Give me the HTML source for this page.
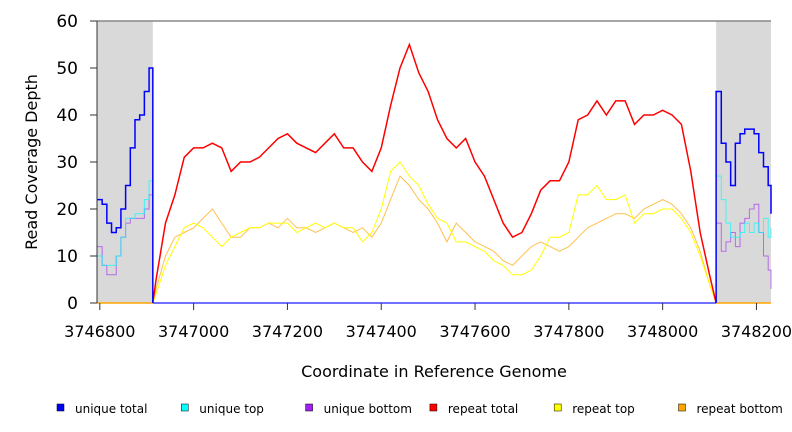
<!DOCTYPE html>
<html><head><meta charset="utf-8"><style>
html,body{margin:0;padding:0;background:#fff;}
svg{display:block;font-family:"DejaVu Sans","Liberation Sans",sans-serif;}
</style></head><body>
<svg id="chart" width="792" height="432" viewBox="0 0 792 432">
<g id="bg"></g><g id="series"></g><g id="axes"></g><g id="legend"></g>
</svg>
<script>
const midCoords = [3746920,3746940,3746960,3746980,3747000,3747020,3747040,3747060,3747080,3747100,3747120,3747140,3747160,3747180,3747200,3747220,3747240,3747260,3747280,3747300,3747320,3747340,3747360,3747380,3747400,3747420,3747440,3747460,3747480,3747500,3747520,3747540,3747560,3747580,3747600,3747620,3747640,3747660,3747680,3747700,3747720,3747740,3747760,3747780,3747800,3747820,3747840,3747860,3747880,3747900,3747920,3747940,3747960,3747980,3748000,3748020,3748040,3748060,3748080,3748100];
const repeatTotal = [5,17,23,31,33,33,34,33,28,30,30,31,33,35,36,34,33,32,34,36,33,33,30,28,33,42,50,55,49,45,39,35,33,35,30,27,22,17,14,15,19,24,26,26,30,39,40,43,40,43,43,38,40,40,41,40,38,28,15,6];
const repeatTop = [2,8,12,16,17,16,14,12,14,15,16,16,17,17,17,15,16,17,16,17,16,16,13,15,20,28,30,27,25,21,18,17,13,13,12,11,9,8,6,6,7,10,14,14,15,23,23,25,22,22,23,17,19,19,20,20,18,15,10,4];
const repeatBottom = [3,10,14,15,16,18,20,17,14,14,16,16,17,16,18,16,16,15,16,17,16,15,16,14,17,22,27,25,22,20,17,13,17,15,13,12,11,9,8,10,12,13,12,11,12,14,16,17,18,19,19,18,20,21,22,21,19,16,11,4];
const leftCoords = [3746795,3746805,3746815,3746825,3746835,3746845,3746855,3746865,3746875,3746885,3746895,3746905,3746913];
const leftUniqueTotal = [22,21,17,15,16,20,25,33,39,40,45,50,46];
const leftUniqueTop = [10,8,8,8,10,14,18,18,19,19,22,26,20];
const leftUniqueBottom = [12,8,6,6,10,14,17,18,18,18,20,23,20];
const rightCoords = [3748114,3748125,3748135,3748145,3748155,3748165,3748175,3748185,3748195,3748205,3748215,3748225,3748231];
const rightUniqueTotal = [45,34,30,25,34,36,37,37,36,32,29,25,19];
const rightUniqueTop = [27,22,17,14,14,15,17,15,17,15,18,14,16];
const rightUniqueBottom = [17,11,13,15,12,17,18,20,21,15,10,7,3];
const xTicks = [3746800,3747000,3747200,3747400,3747600,3747800,3748000,3748200];
const yTicks = [0,10,20,30,40,50,60];
const legendLabels = ["unique total","unique top","unique bottom","repeat total","repeat top","repeat bottom"];
const legendColors = ["#0000ff","#00ffff","#a020f0","#ff0000","#ffff00","#ffa500"];

const NS="http://www.w3.org/2000/svg";
const X0=3746794, X1=3748231, PL=97, PR=771, PT=21, PB=303, YMAX=60;
const gapL=3746913, gapR=3748114;
const xs=c=>PL+(c-X0)*(PR-PL)/(X1-X0);
const ys=v=>PB-v*(PB-PT)/YMAX;
function mk(tag,attrs,parent){const e=document.createElementNS(NS,tag);for(const k in attrs)e.setAttribute(k,attrs[k]);parent.appendChild(e);return e;}
function stepPath(cs,vs){let d="M"+xs(cs[0])+","+ys(vs[0]);for(let i=1;i<cs.length;i++){d+="H"+xs(cs[i])+"V"+ys(vs[i]);}return d;}
function linePath(cs,vs){return cs.map((c,i)=>(i?"L":"M")+xs(c)+","+ys(vs[i])).join("");}
const bg=document.getElementById('bg'),S=document.getElementById('series'),A=document.getElementById('axes'),L=document.getElementById('legend');

let r=mk('rect',{x:xs(X0),y:PT,width:xs(gapL)-xs(X0),height:PB-PT,fill:'#d9d9d9'},bg);

r=mk('rect',{x:xs(gapR),y:PT,width:xs(X1)-xs(gapR),height:PB-PT,fill:'#d9d9d9'},bg);


let p=mk('path',{d:"M"+xs(gapL)+","+ys(0)+"H"+xs(gapR),stroke:'#4444ff',fill:'none','stroke-width':1.5},S);

p=mk('path',{d:"M"+xs(X0)+","+ys(0)+"H"+xs(gapL)+"M"+xs(gapR)+","+ys(0)+"H"+xs(X1),stroke:'#ffa500',fill:'none','stroke-width':1.5},S);


function mid(vs){return linePath([gapL].concat(midCoords,[gapR]),[0].concat(vs,[0]));}
p=mk('path',{d:mid(repeatBottom),stroke:'#ffa500',fill:'none','stroke-width':1,opacity:0.7},S);

p=mk('path',{d:mid(repeatTop),stroke:'#ffff00',fill:'none','stroke-width':1},S);

p=mk('path',{d:mid(repeatTotal),stroke:'#ff0000',fill:'none','stroke-width':1.5},S);


p=mk('path',{d:stepPath(leftCoords,leftUniqueBottom),stroke:'#a020f0',fill:'none','stroke-width':1,opacity:0.6},S);

p=mk('path',{d:stepPath(leftCoords,leftUniqueTop),stroke:'#00ffff',fill:'none','stroke-width':1,opacity:0.7},S);

p=mk('path',{d:stepPath(leftCoords,leftUniqueTotal)+"V"+ys(0),stroke:'#0000ff',fill:'none','stroke-width':1.5},S);

p=mk('path',{d:stepPath(rightCoords,rightUniqueBottom),stroke:'#a020f0',fill:'none','stroke-width':1,opacity:0.6},S);

p=mk('path',{d:stepPath(rightCoords,rightUniqueTop),stroke:'#00ffff',fill:'none','stroke-width':1,opacity:0.7},S);

p=mk('path',{d:"M"+xs(gapR)+","+ys(0)+"V"+ys(rightUniqueTotal[0])+stepPath(rightCoords,rightUniqueTotal).replace(/^M[^H]*/,""),stroke:'#0000ff',fill:'none','stroke-width':1.5},S);


p=mk('line',{x1:PL,y1:PT,x2:PR,y2:PT,stroke:'#888',"stroke-width":1.5},A);

p=mk('line',{x1:PL,y1:PT,x2:PL,y2:PB,stroke:'#333',"stroke-width":1},A);

yTicks.forEach(v=>{
 let t=mk('line',{x1:PL-7,x2:PL,y1:ys(v),y2:ys(v),stroke:'#333'},A);
 
 let tx=mk('text',{x:78,y:ys(v)+6,'text-anchor':'end','font-size':17,fill:'#000'},A);tx.textContent=v;
 
});
xTicks.forEach(v=>{
 let t=mk('line',{x1:xs(v),x2:xs(v),y1:PB,y2:PB+7,stroke:'#333'},A);
 
 let tx=mk('text',{x:xs(v),y:337,'text-anchor':'middle','font-size':16,fill:'#000'},A);tx.textContent=v;
 
});
let tt=mk('text',{x:434,y:377,'text-anchor':'middle','font-size':16,fill:'#000'},A);tt.textContent="Coordinate in Reference Genome";

tt=mk('text',{x:0,y:0,'text-anchor':'middle','font-size':16,fill:'#000',transform:'translate(37,162) rotate(-90)'},A);tt.textContent="Read Coverage Depth";


legendLabels.forEach((lab,i)=>{
 const x0=57+i*124.3;
 let g=mk('g',{},L);
 
 mk('rect',{x:x0,y:404,width:7,height:7,fill:legendColors[i],stroke:'#000','stroke-width':0.5},g);
 let t=mk('text',{x:x0+18,y:413,'font-size':12,fill:'#000'},g);t.textContent=lab;
});
</script>
</body></html>
